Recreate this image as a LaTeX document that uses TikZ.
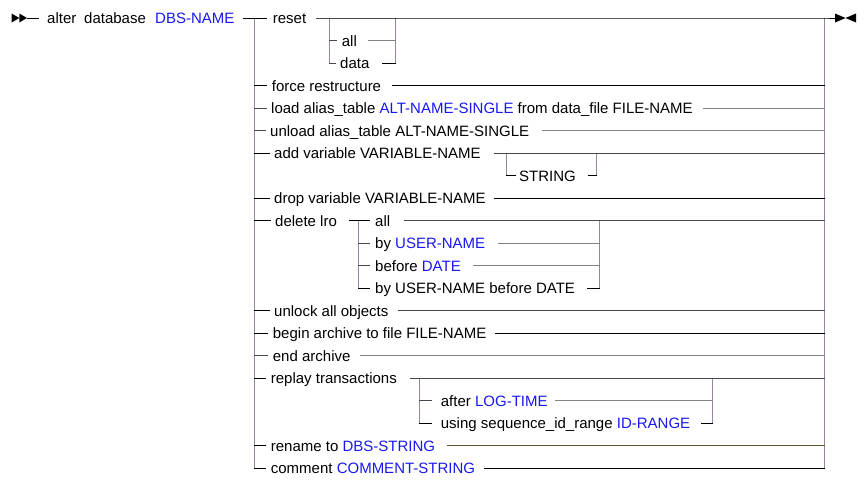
\documentclass[tikz,border=0pt]{standalone}
\usepackage{fontspec}
\setmainfont{Liberation Sans}
\usetikzlibrary{calc}
\definecolor{kwc}{RGB}{24,24,240}
\definecolor{barc}{RGB}{150,135,155}
\definecolor{cgray}{RGB}{130,130,130}
\definecolor{cdark}{RGB}{75,70,80}
\definecolor{colive}{RGB}{95,85,45}
\newcommand\kw[1]{\textcolor{kwc}{#1}}
\begin{document}
\begin{tikzpicture}[x=1pt,y=-1pt,
  lbl/.style={inner sep=0pt,anchor=base west,font=\fontsize{15}{18}\selectfont},
  ln/.style={line width=1pt,line cap=rect},
  barln/.style={line width=1pt,draw=barc}]
\useasboundingbox (0,0) rectangle (867,479);
% row coordinates
\foreach \i/\y in {0/18,1/40.5,2/63,3/85.5,4/108,5/130.5,6/153,7/175.5,8/198,9/220.5,10/243,11/265.5,12/288,13/310.5,14/333,15/355.5,16/378,17/400.5,18/423,19/445.5,20/468}
  \coordinate (y\i) at (0,\y);
\coordinate (Lbar) at (254.3,0);
\coordinate (Rbar) at (824.3,0);
\coordinate (rsA) at (329.3,0);
\coordinate (rsB) at (395.7,0);
\coordinate (avA) at (506,0);
\coordinate (avB) at (596,0);
\coordinate (dlA) at (358.3,0);
\coordinate (dlB) at (599.3,0);
\coordinate (rpA) at (419,0);
\coordinate (rpB) at (712.3,0);
\coordinate (endc) at (835,18);
\coordinate (startc) at (27,18);

% texts
\node[lbl] (alter) at (47,23.5) {alter};
\node[lbl] (database) at (84,23.5) {database};
\node[lbl] (dbsname) at (155,23.5) {\kw{DBS-NAME}};
\node[lbl] (reset) at (272.7,23.5) {reset};
\node[lbl] (rall) at (341.7,46) {all};
\node[lbl] (rdata) at (340,68.5) {data};
\node[lbl] (force) at (271.7,91) {force restructure};
\node[lbl] (load) at (271,113.5) {load alias\_table \kw{ALT-NAME-SINGLE} from data\_file FILE-NAME};
\node[lbl] (unload) at (270,136) {unload alias\_table ALT-NAME-SINGLE};
\node[lbl] (addv) at (274,158.5) {add variable VARIABLE-NAME};
\node[lbl] (string) at (519,181) {STRING};
\node[lbl] (drop) at (274,203.5) {drop variable VARIABLE-NAME};
\node[lbl] (delete) at (275,226) {delete lro};
\node[lbl] (dall) at (375,226) {all};
\node[lbl] (dbyuser) at (375,248.5) {by \kw{USER-NAME}};
\node[lbl] (dbefore) at (375,271) {before \kw{DATE}};
\node[lbl] (dboth) at (375,293.5) {by USER-NAME before DATE};
\node[lbl] (unlock) at (274,316) {unlock all objects};
\node[lbl] (beginarch) at (272.7,338.5) {begin archive to file FILE-NAME};
\node[lbl] (endarch) at (272.7,361) {end archive};
\node[lbl] (replay) at (270.7,383.5) {replay transactions};
\node[lbl] (after) at (440.7,406) {after \kw{LOG-TIME}};
\node[lbl] (using) at (440.7,428.5) {using sequence\_id\_range \kw{ID-RANGE}};
\node[lbl] (rename) at (270.7,451) {rename to \kw{DBS-STRING}};
\node[lbl] (comment) at (270.7,473.5) {comment \kw{COMMENT-STRING}};

% main bars
\draw[barln] (Lbar|-y0) -- (Lbar|-y20);
\draw[barln] (Rbar|-y0) -- (Rbar|-y20);
\draw[barln] (rsA|-y0) -- (rsA|-y2);
\draw[barln] (rsB|-y0) -- (rsB|-y2);
\draw[barln] (avA|-y6) -- (avA|-y7);
\draw[barln] (avB|-y6) -- (avB|-y7);
\draw[barln] (dlA|-y9) -- (dlA|-y12);
\draw[barln] (dlB|-y9) -- (dlB|-y12);
\draw[barln] (rpA|-y16) -- (rpA|-y18);
\draw[barln] (rpB|-y16) -- (rpB|-y18);

% start and end marks
\fill (11.7,13.5) -- (19.3,18) -- (11.7,22.5) -- cycle;
\fill (19.3,13.5) -- (27,18) -- (19.3,22.5) -- cycle;
\draw[ln] (startc) -- ($(alter.west|-y0)+(-9,0)$);
\fill (endc) ++(0,-4.5) -- (845.5,18) -- (835,22.5) -- cycle;
\fill (856,13.5) -- (845.5,18) -- (856,22.5) -- cycle;

% main line
\draw[ln] ($(dbsname.east|-y0)+(9,0)$) -- ($(reset.west|-y0)+(-6,0)$);
\draw[ln,cdark] ($(reset.east|-y0)+(10,0)$) -- (rsB|-y0);
\draw[ln] (rsB|-y0) -- (Rbar|-y0) -- (endc);

% reset options
\draw[ln,cdark] (rsA|-y1) -- ($(rall.west|-y1)+(-5,0)$);
\draw[ln,cgray] ($(rall.east|-y1)+(11,0)$) -- (rsB|-y1);
\draw[ln,cdark] (rsA|-y2) -- ($(rdata.west|-y2)+(-5,0)$);
\draw[ln] ($(rdata.east|-y2)+(13,0)$) -- (rsB|-y2);

% force restructure
\draw[ln] (Lbar|-y3) -- ($(force.west|-y3)+(-5,0)$);
\draw[ln] ($(force.east|-y3)+(11,0)$) -- (Rbar|-y3);
% load
\draw[ln,cdark] (Lbar|-y4) -- ($(load.west|-y4)+(-5,0)$);
\draw[ln,cgray] ($(load.east|-y4)+(11,0)$) -- (Rbar|-y4);
% unload
\draw[ln,cdark] (Lbar|-y5) -- ($(unload.west|-y5)+(-5,0)$);
\draw[ln,cgray] ($(unload.east|-y5)+(13,0)$) -- (Rbar|-y5);
% add variable
\draw[ln] (Lbar|-y6) -- ($(addv.west|-y6)+(-5,0)$);
\draw[ln,cdark] ($(addv.east|-y6)+(14,0)$) -- (Rbar|-y6);
\draw[ln] (avA|-y7) -- ($(string.west|-y7)+(-4,0)$);
\draw[ln] ($(string.east|-y7)+(12,0)$) -- (avB|-y7);
% drop variable
\draw[ln] (Lbar|-y8) -- ($(drop.west|-y8)+(-5,0)$);
\draw[ln] ($(drop.east|-y8)+(9,0)$) -- (Rbar|-y8);
% delete lro
\draw[ln] (Lbar|-y9) -- ($(delete.west|-y9)+(-5,0)$);
\draw[ln] ($(delete.east|-y9)+(12,0)$) -- ($(dall.west|-y9)+(-6,0)$);
\draw[ln,cdark] ($(dall.east|-y9)+(14,0)$) -- (Rbar|-y9);
\draw[ln,cdark] (dlA|-y10) -- ($(dbyuser.west|-y10)+(-6,0)$);
\draw[ln,cgray] ($(dbyuser.east|-y10)+(13,0)$) -- (dlB|-y10);
\draw[ln,cdark] (dlA|-y11) -- ($(dbefore.west|-y11)+(-6,0)$);
\draw[ln,cgray] ($(dbefore.east|-y11)+(13,0)$) -- (dlB|-y11);
\draw[ln] (dlA|-y12) -- ($(dboth.west|-y12)+(-6,0)$);
\draw[ln] ($(dboth.east|-y12)+(12,0)$) -- (dlB|-y12);
% unlock
\draw[ln] (Lbar|-y13) -- ($(unlock.west|-y13)+(-5,0)$);
\draw[ln,cdark] ($(unlock.east|-y13)+(10,0)$) -- (Rbar|-y13);
% begin archive
\draw[ln] (Lbar|-y14) -- ($(beginarch.west|-y14)+(-5,0)$);
\draw[ln] ($(beginarch.east|-y14)+(9,0)$) -- (Rbar|-y14);
% end archive
\draw[ln,cdark] (Lbar|-y15) -- ($(endarch.west|-y15)+(-5,0)$);
\draw[ln,cgray] ($(endarch.east|-y15)+(10,0)$) -- (Rbar|-y15);
% replay
\draw[ln] (Lbar|-y16) -- ($(replay.west|-y16)+(-5,0)$);
\draw[ln,cdark] ($(replay.east|-y16)+(13,0)$) -- (Rbar|-y16);
\draw[ln,cdark] (rpA|-y17) -- ($(after.west|-y17)+(-9,0)$);
\draw[ln,cgray] ($(after.east|-y17)+(8,0)$) -- (rpB|-y17);
\draw[ln] (rpA|-y18) -- ($(using.west|-y18)+(-9,0)$);
\draw[ln] ($(using.east|-y18)+(11,0)$) -- (rpB|-y18);
% rename
\draw[ln] (Lbar|-y19) -- ($(rename.west|-y19)+(-5,0)$);
\draw[ln,colive] ($(rename.east|-y19)+(12,0)$) -- (Rbar|-y19);
% comment
\draw[ln] (Lbar|-y20) -- ($(comment.west|-y20)+(-5,0)$);
\draw[ln] ($(comment.east|-y20)+(9,0)$) -- (Rbar|-y20);
\end{tikzpicture}
\end{document}
